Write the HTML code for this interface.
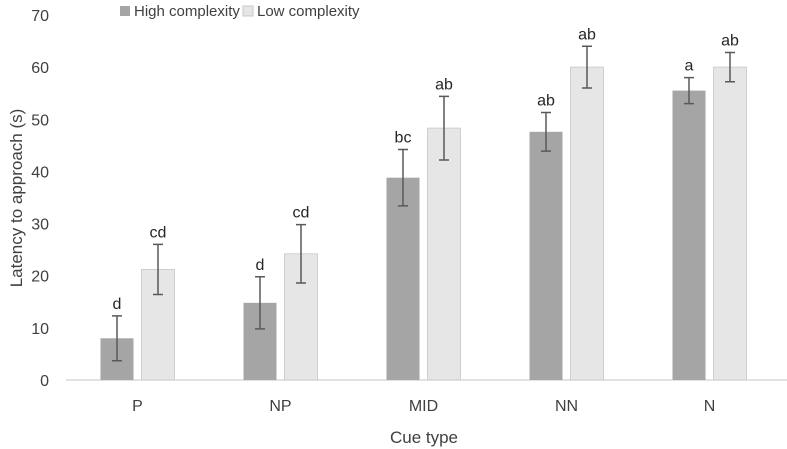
<!DOCTYPE html>
<html><head><meta charset="utf-8"><style>
body{margin:0;background:#fff;}
svg{display:block;font-family:"Liberation Sans",sans-serif;}
</style></head><body>
<svg id="c" width="787" height="449">
<g>
<rect x="120" y="6" width="10" height="10" fill="#a5a5a5"/>
<text x="134" y="16" font-size="15" fill="#404040">High complexity</text>
<rect x="243" y="6" width="10" height="10" fill="#e6e6e6" stroke="#c8c8c8"/>
<text x="257" y="16" font-size="15" fill="#404040">Low complexity</text>
</g>
<text transform="translate(22,198) rotate(-90)" text-anchor="middle" font-size="17" fill="#404040">Latency to approach (s)</text>
<text x="424" y="443" text-anchor="middle" font-size="17" fill="#404040">Cue type</text>
</svg>
<script>
const categories=["P","NP","MID","NN","N"];
const highVals=[8.0,14.8,38.8,47.6,55.5];
const lowVals=[21.2,24.2,48.3,60.0,60.0];
const highErr=[4.3,5.0,5.4,3.7,2.5];
const lowErr=[4.8,5.6,6.1,4.0,2.8];
const highLetters=["d","d","bc","ab","a"];
const lowLetters=["cd","cd","ab","ab","ab"];
const yTicks=[0,10,20,30,40,50,60,70];
const svg=document.getElementById('c');
const NS="http://www.w3.org/2000/svg";
const y0=380,ppu=(380-15)/70,left=66,step=143;
const y=v=>y0-v*ppu;
const xc=i=>left+step*(i+0.5);
function mk(t,a){const e=document.createElementNS(NS,t);for(const k in a)e.setAttribute(k,a[k]);svg.appendChild(e);return e;}
yTicks.forEach(t=>{const e=mk('text',{x:49,y:y(t)+6,'text-anchor':'end','font-size':16,fill:'#404040'});e.textContent=t;

});
const ax=mk('line',{x1:left,x2:787,y1:y0,y2:y0,stroke:'#d9d9d9','stroke-width':1.5});


categories.forEach((c,i)=>{
 const cx=xc(i);
 [[highVals,highErr,highLetters,cx-37,'#a5a5a5','none','high'],[lowVals,lowErr,lowLetters,cx+4,'#e6e6e6','#cfcfcf','low']].forEach(([v,er,lt,bx,f,s,n])=>{
  const r=mk('rect',{x:bx,y:y(v[i]),width:33,height:y0-y(v[i]),fill:f,stroke:s});
  
  
  const mx=bx+16.5,t=y(v[i]+er[i]),b=y(v[i]-er[i]);
  const g=mk('path',{d:`M${mx},${t}V${b}M${mx-5},${t}H${mx+5}M${mx-5},${b}H${mx+5}`,stroke:'#595959','stroke-width':1.5,fill:'none'});
  
  
  const l=mk('text',{x:mx,y:t-7,'text-anchor':'middle','font-size':16,fill:'#262626'});l.textContent=lt[i];
  
  
 });
 const tl=mk('text',{x:cx,y:411,'text-anchor':'middle','font-size':16,fill:'#404040'});tl.textContent=c;
 
 
});
</script>
</body></html>
